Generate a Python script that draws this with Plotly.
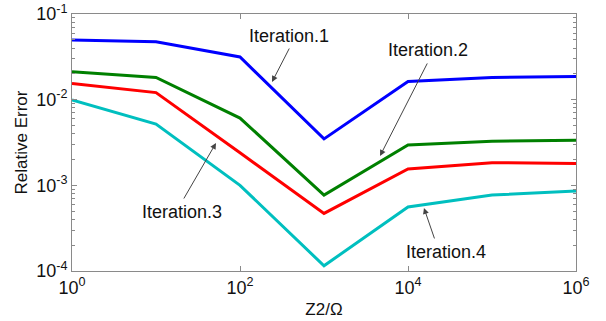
import plotly.graph_objects as go

x_vals = [1, 10, 100, 1000, 1e4, 1e5, 1e6]
iter1 = [0.0497, 0.0475, 0.0315, 0.00348, 0.0163, 0.0182, 0.0187]
iter2 = [0.0212, 0.0182, 0.0061, 0.00077, 0.00296, 0.00327, 0.00336]
iter3 = [0.0155, 0.0121, 0.0024, 0.00047, 0.00155, 0.00184, 0.0018]
iter4 = [0.0099, 0.0052, 0.00100, 0.000115, 0.00056, 0.00077, 0.00086]
series_names = ["Iteration.1", "Iteration.2", "Iteration.3", "Iteration.4"]
colors = ["#0000FF", "#008000", "#FF0000", "#00BFBF"]
x_tick_vals = [1, 100, 1e4, 1e6]
x_tick_text = ["10<sup>0</sup>", "10<sup>2</sup>", "10<sup>4</sup>", "10<sup>6</sup>"]
y_tick_vals = [1e-4, 1e-3, 1e-2, 1e-1]
y_tick_text = ["10<sup>-4</sup>", "10<sup>-3</sup>", "10<sup>-2</sup>", "10<sup>-1</sup>"]

FONT = "Liberation Sans, Arial, sans-serif"

fig = go.Figure()
for name, ys, c in zip(series_names, [iter1, iter2, iter3, iter4], colors):
    fig.add_trace(go.Scatter(x=x_vals, y=ys, mode="lines", name=name,
                             line=dict(color=c, width=3)))

# label annotations: (text center log-x, log-y), arrow head (log-x, log-y), tail offset px
labels = [
    ("Iteration.1", 2.583, -1.257, 2.381, -1.794, 18, -35),
    ("Iteration.2", 4.238, -1.420, 3.667, -2.657, 48, -94),
    ("Iteration.3", 1.310, -3.311, 1.714, -2.506, -33, 57),
    ("Iteration.4", 4.452, -3.778, 4.190, -3.264, 11, 32),
]
for text, tx, ty, hx, hy, ax, ay in labels:
    fig.add_annotation(x=hx, y=hy, xref="x", yref="y", text="", showarrow=True,
                       ax=ax, ay=ay, arrowhead=2, arrowsize=1.2, arrowwidth=1,
                       arrowcolor="#444444")
    fig.add_annotation(x=tx, y=ty, xref="x", yref="y", text=text, showarrow=False,
                       font=dict(family=FONT, size=18, color="#111111"))

axis_common = dict(
    type="log", showgrid=False, zeroline=False, automargin=False,
    showline=True, linecolor="#8a8a8a", linewidth=1, mirror="allticks",
    ticks="inside", ticklen=5, tickcolor="#8a8a8a",
    tickfont=dict(family=FONT, size=18, color="#111111"),
)

fig.update_xaxes(**axis_common, range=[-0.0001, 6.0001],
                 tickmode="array", tickvals=x_tick_vals, ticktext=x_tick_text,
                 title=dict(text="Z2/Ω", font=dict(family=FONT, size=17, color="#111111"), standoff=6))
fig.update_yaxes(**axis_common, range=[-4.0001, -0.9999],
                 tickmode="array", tickvals=y_tick_vals, ticktext=y_tick_text,
                 minor=dict(ticks="inside", ticklen=3, tickcolor="#8a8a8a", dtick="D1", showgrid=False),
                 title=dict(text="Relative Error", font=dict(family=FONT, size=17, color="#111111"), standoff=4))

fig.update_layout(
    width=606, height=321,
    margin=dict(l=72, r=30, t=14, b=50),
    paper_bgcolor="white", plot_bgcolor="white",
    showlegend=False,
)

fig.write_html("out.html")
